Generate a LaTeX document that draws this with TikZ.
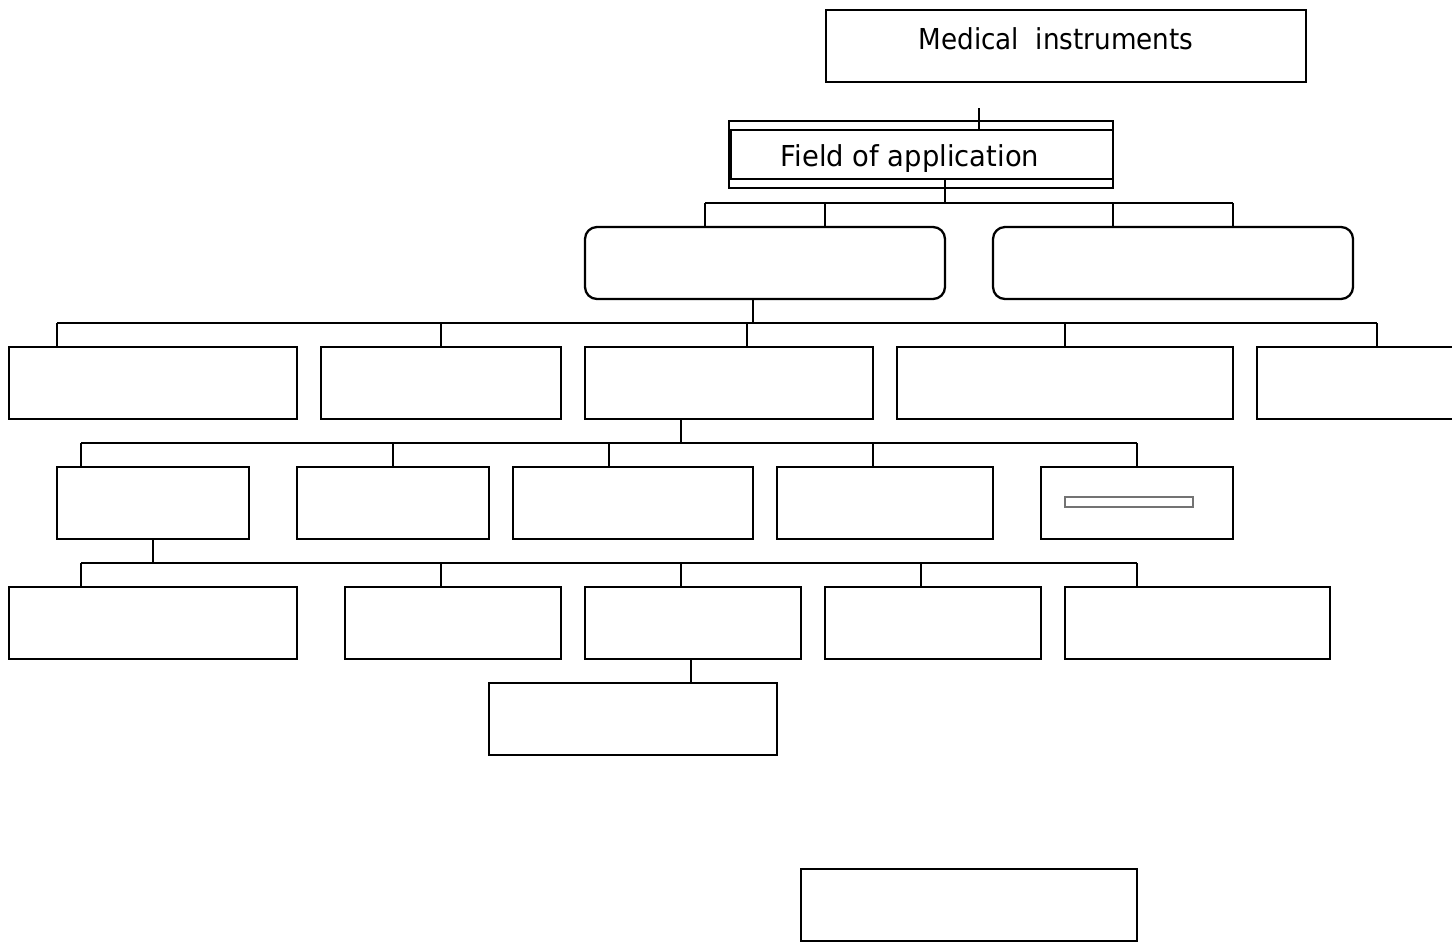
\documentclass[tikz,border=0pt]{standalone}
\usepackage{fontspec}
\usepackage{graphicx}
\setmainfont{DejaVu Sans}
\begin{document}
\begin{tikzpicture}[x=0.01cm,y=-0.01cm,
  line width=0.65pt,
  box/.style={draw,rectangle,inner sep=0pt},
  rbox/.style={box,rounded corners=0.12cm},
  lbl/.style={inner sep=0pt,font=\fontsize{8.2}{10}\selectfont}]
\useasboundingbox (0,0) rectangle (1452,942);
% a box given by its corners (x1,y1) and (x2,y2), in pixel units
\newcommand\boxat[6][box]{%
  \node[#1,minimum width={(#5-#3)*0.01cm},minimum height={(#6-#4)*0.01cm}]
    (#2) at ({(#3+#5)/2},{(#4+#6)/2}) {};}

% top level
\boxat{top}{826}{10}{1306}{82}
\node[lbl] (toplbl) at (1056,39) {\scalebox{0.91}[1]{Medical\ \ instruments}};

% field of application: double frame
\boxat{fieldo}{729}{121}{1113}{188}
\boxat[box,line width=0.8pt]{field}{731}{130}{1113}{179}
\node[lbl] (fieldlbl) at (910,159) {\scalebox{0.95}[1]{Field of application}};
\coordinate (t0) at (979,108);
\draw (t0) -- (t0 |- field.north);

% two rounded boxes
\boxat[rbox]{ra}{585}{227}{945}{299}
\boxat[rbox]{rb}{993}{227}{1353}{299}
\coordinate (j0) at (945,203);
\draw (j0 |- field.south) -- (j0);
\draw (705,0 |- j0) -- (1233,0 |- j0);
\foreach \x/\n in {705/ra,825/ra,1113/rb,1233/rb}
  \draw (\x,0 |- j0) -- (\x,0 |- \n.north);

% second row
\boxat{a1}{9}{347}{297}{419}
\boxat{a2}{321}{347}{561}{419}
\boxat{a3}{585}{347}{873}{419}
\boxat{a4}{897}{347}{1233}{419}
\draw (1470,347) -- (1257,347) -- (1257,419) -- (1470,419);
\coordinate (a5) at (1377,347);
\coordinate (j1) at (753,323);
\draw (j1 |- ra.south) -- (j1);
\draw (57,0 |- j1) -- (1377,0 |- j1);
\foreach \x/\n in {57/a1,441/a2,747/a3,1065/a4,1377/a5}
  \draw (\x,0 |- j1) -- (\x,0 |- \n.north);

% third row
\boxat{b1}{57}{467}{249}{539}
\boxat{b2}{297}{467}{489}{539}
\boxat{b3}{513}{467}{753}{539}
\boxat{b4}{777}{467}{993}{539}
\boxat{b5}{1041}{467}{1233}{539}
\boxat[box,draw=black!55,line width=0.4pt]{b5in}{1065}{497}{1193}{507}
\coordinate (j2) at (681,443);
\draw (j2 |- a3.south) -- (j2);
\draw (81,0 |- j2) -- (1137,0 |- j2);
\foreach \x/\n in {81/b1,393/b2,609/b3,873/b4,1137/b5}
  \draw (\x,0 |- j2) -- (\x,0 |- \n.north);

% fourth row
\boxat{c1}{9}{587}{297}{659}
\boxat{c2}{345}{587}{561}{659}
\boxat{c3}{585}{587}{801}{659}
\boxat{c4}{825}{587}{1041}{659}
\boxat{c5}{1065}{587}{1330}{659}
\coordinate (j3) at (153,563);
\draw (j3 |- b1.south) -- (j3);
\draw (81,0 |- j3) -- (1137,0 |- j3);
\foreach \x/\n in {81/c1,441/c2,681/c3,921/c4,1137/c5}
  \draw (\x,0 |- j3) -- (\x,0 |- \n.north);

% fifth row
\boxat{d1}{489}{683}{777}{755}
\coordinate (j4) at (691,683);
\draw (j4 |- c3.south) -- (j4 |- d1.north);

% separate box
\boxat{e1}{801}{869}{1137}{941}
\end{tikzpicture}
\end{document}
